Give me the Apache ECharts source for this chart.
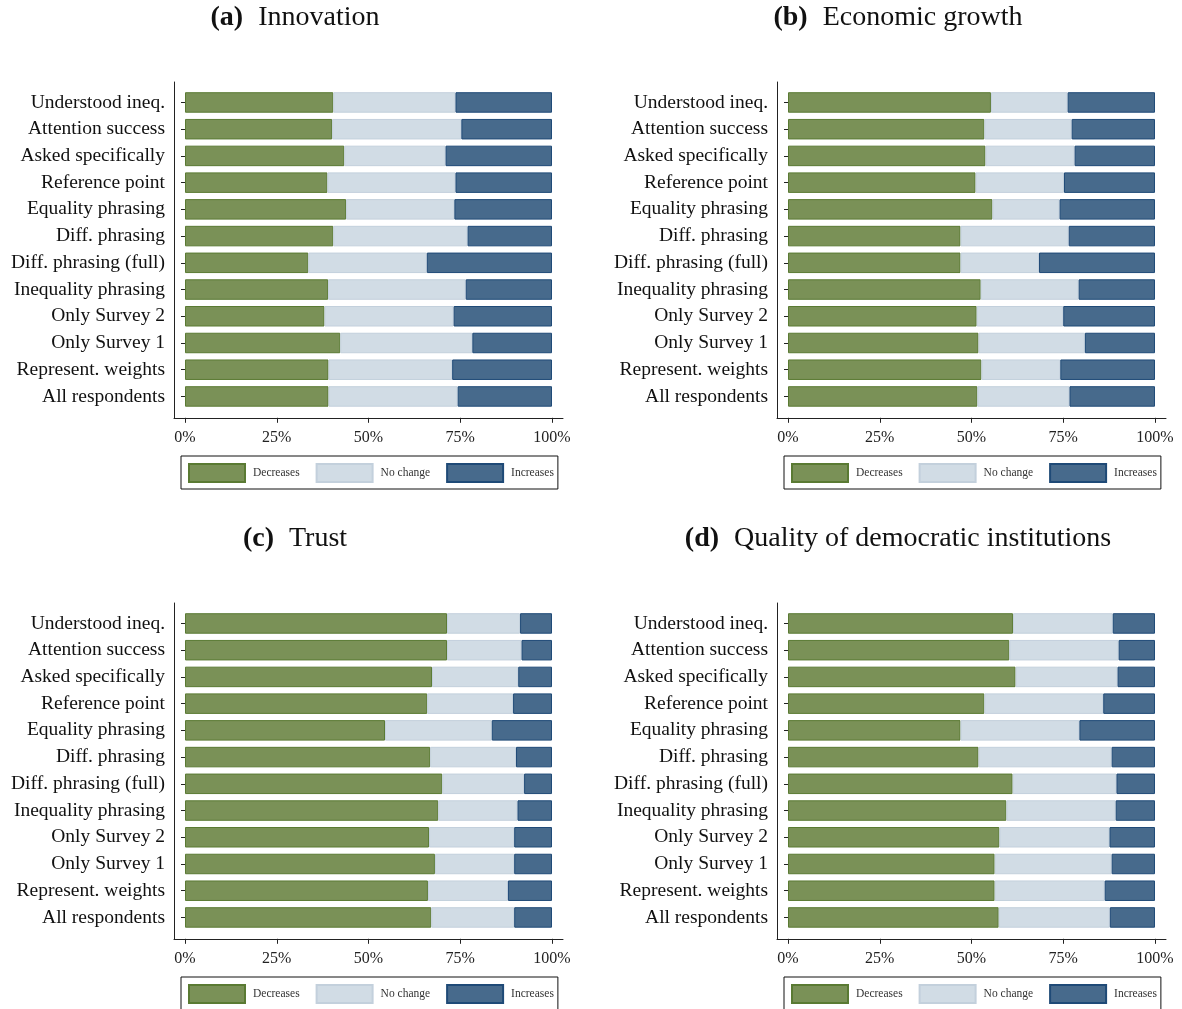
<!DOCTYPE html>
<html><head><meta charset="utf-8">
<script src="https://cdn.jsdelivr.net/npm/echarts@6/dist/echarts.min.js"></script>
<style>html,body{margin:0;padding:0;background:#fff}#c{width:1182px;height:1009px}</style>
</head><body><div id="c"></div>
<script>
const categories = ['Understood ineq.', 'Attention success', 'Asked specifically', 'Reference point',
  'Equality phrasing', 'Diff. phrasing', 'Diff. phrasing (full)', 'Inequality phrasing',
  'Only Survey 2', 'Only Survey 1', 'Represent. weights', 'All respondents'];
const seriesNames = ['Decreases', 'No change', 'Increases'];
const tickValues = [0, 25, 50, 75, 100];
const panelLetters = ['(a)', '(b)', '(c)', '(d)'];
const panelNames = ['Innovation', 'Economic growth', 'Trust', 'Quality of democratic institutions'];

const innovationDec = [40.4, 40.1, 43.4, 38.8, 43.9, 40.4, 33.6, 39.0, 38.0, 42.3, 39.1, 39.1];
const innovationNo  = [33.3, 35.2, 27.6, 34.9, 29.5, 36.6, 32.3, 37.5, 35.2, 36.0, 33.7, 35.2];
const innovationInc = [26.3, 24.7, 29.0, 26.3, 26.6, 23.0, 34.1, 23.5, 26.8, 21.7, 27.2, 25.7];

const growthDec = [55.3, 53.5, 53.8, 51.1, 55.7, 47.0, 47.0, 52.5, 51.4, 51.9, 52.7, 51.6];
const growthNo  = [20.9, 23.8, 24.3, 24.1, 18.3, 29.5, 21.4, 26.7, 23.6, 29.0, 21.5, 25.1];
const growthInc = [23.8, 22.7, 21.9, 24.8, 26.0, 23.5, 31.6, 20.8, 25.0, 19.1, 25.8, 23.3];

const trustDec = [71.4, 71.4, 67.3, 66.0, 54.5, 66.8, 70.1, 69.0, 66.5, 68.1, 66.2, 67.1];
const trustNo  = [19.9, 20.3, 23.5, 23.4, 29.1, 23.4, 22.3, 21.6, 23.2, 21.6, 21.8, 22.6];
const trustInc = [8.7, 8.3, 9.2, 10.6, 16.4, 9.8, 7.6, 9.4, 10.3, 10.3, 12.0, 10.3];

const democracyDec = [61.3, 60.3, 62.0, 53.5, 47.0, 51.9, 61.2, 59.5, 57.6, 56.3, 56.3, 57.4];
const democracyNo  = [27.2, 29.8, 27.8, 32.4, 32.4, 36.3, 28.3, 29.8, 30.0, 31.9, 30.0, 30.3];
const democracyInc = [11.5, 9.9, 10.2, 14.1, 20.6, 11.8, 10.5, 10.7, 12.4, 11.8, 13.7, 12.3];

const panelData = [
  [innovationDec, innovationNo, innovationInc],
  [growthDec, growthNo, growthInc],
  [trustDec, trustNo, trustInc],
  [democracyDec, democracyNo, democracyInc]
];

const fills = ['#7a9157', '#d1dce5', '#476a8c'];
const borders = ['#5a7a33', '#c3d0dc', '#1f4a77'];
const SERIF = '"Liberation Serif", "DejaVu Serif", serif';

const colLeft = [174, 777];
const rowTop = [82, 603];
const plotW = 389;
const axisH = 336;

const grids = [], xAxes = [], yAxes = [], series = [], legends = [], titles = [];
for (let p = 0; p < 4; p++) {
  const L = colLeft[p % 2], T = rowTop[Math.floor(p / 2)];
  grids.push({ left: L, top: T + 7.1, width: plotW, height: 320.7, containLabel: false });
  xAxes.push({
    gridIndex: p, type: 'value', min: -3, max: 103, offset: 8,
    axisLine: { show: true, lineStyle: { color: '#222', width: 1 } },
    axisTick: { show: true, customValues: tickValues, length: 5, lineStyle: { color: '#222' } },
    axisLabel: { customValues: tickValues, formatter: '{value}%', fontSize: 16, fontFamily: SERIF, color: '#222', margin: 12 },
    splitLine: { show: false }
  });
  yAxes.push({
    gridIndex: p, type: 'category', data: categories, inverse: true,
    axisLine: { show: false },
    axisTick: { show: true, alignWithLabel: true, length: 4, lineStyle: { color: '#222' } },
    axisLabel: { fontSize: 19.5, fontFamily: SERIF, color: '#111', margin: 9, padding: [3, 0, 0, 0] },
    splitLine: { show: false }
  });
  for (let s = 0; s < 3; s++) {
    series.push({
      name: seriesNames[s], type: 'bar', stack: 'p' + p,
      xAxisIndex: p, yAxisIndex: p, barWidth: 20.5,
      itemStyle: { color: fills[s], borderColor: borders[s], borderWidth: 1 },
      emphasis: { disabled: true },
      data: panelData[p][s]
    });
  }
  legends.push({
    data: seriesNames, left: L + 7, top: T + 374, orient: 'horizontal',
    itemWidth: 56, itemHeight: 18, itemGap: 16, icon: 'rect',
    padding: [7, 4, 6, 7], borderColor: '#111', borderWidth: 1,
    textStyle: { fontSize: 11.5, fontFamily: SERIF, color: '#333', padding: [0, 0, 0, 3] },
    selectedMode: false
  });
  titles.push({
    text: '{b|' + panelLetters[p] + '}   {n|' + panelNames[p] + '}',
    left: L + 121, top: T - 78, textAlign: 'center', padding: 0,
    textStyle: {
      rich: {
        b: { fontSize: 28, fontWeight: 'bold', fontFamily: SERIF, color: '#111' },
        n: { fontSize: 28, fontWeight: 'normal', fontFamily: SERIF, color: '#111' }
      }
    }
  });
}
// frame grids: full-height y axis lines
for (let p = 0; p < 4; p++) {
  const L = colLeft[p % 2], T = rowTop[Math.floor(p / 2)];
  grids.push({ left: L, top: T, width: plotW, height: axisH });
  xAxes.push({ gridIndex: 4 + p, type: 'value', min: 0, max: 1, show: false });
  yAxes.push({
    gridIndex: 4 + p, type: 'value', min: 0, max: 1,
    axisLine: { show: true, lineStyle: { color: '#222', width: 1 } },
    axisTick: { show: false }, axisLabel: { show: false }, splitLine: { show: false }
  });
}

const chart = echarts.init(document.getElementById('c'), null, { renderer: 'canvas' });
chart.setOption({
  animation: false,
  backgroundColor: '#fff',
  title: titles,
  grid: grids,
  xAxis: xAxes,
  yAxis: yAxes,
  legend: legends,
  series: series
});
</script>
</body></html>
